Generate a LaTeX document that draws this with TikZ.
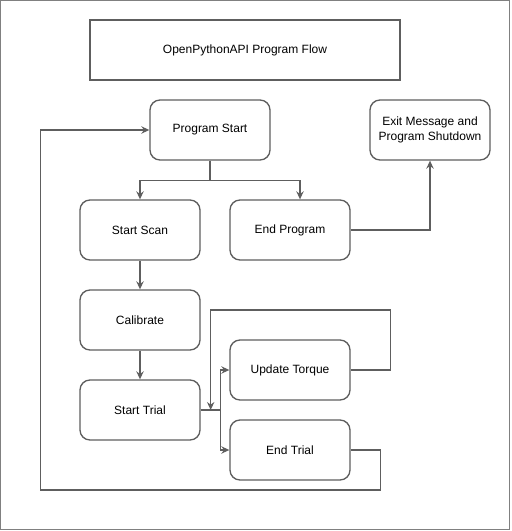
\documentclass[tikz,border=0pt]{standalone}
\usepackage{fontspec}
\setmainfont{Liberation Sans}
\usepackage{tikz}
\usetikzlibrary{calc,arrows.meta}
\definecolor{frame}{HTML}{808080}
\definecolor{line}{HTML}{5E5E5E}
\definecolor{text}{HTML}{000000}
\tikzset{
  titlebox/.style={draw=line, line width=1pt, minimum width=232.5pt, minimum height=45pt, inner sep=0pt, text=text, font=\fontsize{9}{11}\selectfont},
  stepbox/.style={draw=line, line width=1pt, rounded corners=7.5pt, minimum width=90pt, minimum height=45pt, inner sep=0pt, align=center, text=text, font=\fontsize{9}{11}\selectfont},
  conn/.style={draw=line, line width=1pt, -{Stealth[length=6pt,width=5.5pt,inset=2pt]}},
}

\begin{document}
\begin{tikzpicture}[x=0.75pt, y=-0.75pt]
  \useasboundingbox (0,0) rectangle (511,531);
  \draw[frame, line width=0.9pt] (0.5,0.5) rectangle (509.5,529.5);

  \node[titlebox] (title) at (245,50) {OpenPythonAPI Program Flow};

  \node[stepbox] (start)    at (210,130) {Program Start};
  \node[stepbox] (exit)     at (430,130) {Exit Message and\\Program Shutdown};
  \node[stepbox] (scan)     at (140,230) {Start Scan};
  \node[stepbox] (endprog)  at (290,230) {End Program};
  \node[stepbox] (calib)    at (140,320) {Calibrate};
  \node[stepbox] (trial)    at (140,410) {Start Trial};
  \node[stepbox] (torque)   at (290,370) {Update Torque};
  \node[stepbox] (endtrial) at (290,450) {End Trial};

  \draw[conn] (start.south) -- ++(0,20) -| (scan.north);
  \draw[conn] (start.south) -- ++(0,20) -| ($(endprog.north)+(10,0)$);
  \draw[conn] (endprog.east) -| (exit.south);
  \draw[conn] (scan) -- (calib);
  \draw[conn] (calib) -- (trial);

  \draw[conn] (trial.east) -- ++(20,0) |- (torque.west);
  \draw[conn] (trial.east) -- ++(20,0) |- (endtrial.west);

  % loops back
  \draw[conn] (torque.east) -- ++(40,0) -- ++(0,-60) -| ($(trial.east)+(10,0)$);
  \draw[conn] (endtrial.east) -- ++(30,0) |- ++(-340,40) |- (start.west);
\end{tikzpicture}
\end{document}
